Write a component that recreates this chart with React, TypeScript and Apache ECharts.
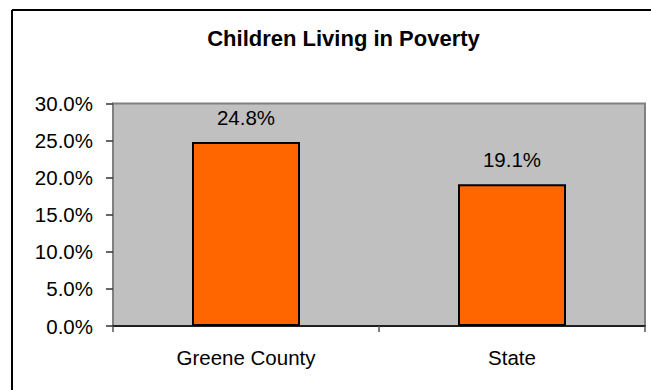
import React, { useEffect, useRef } from "react";
import * as echarts from "echarts";

const categories = ["Greene County", "State"];
const values = [24.8, 19.1];
const yMin = 0;
const yMax = 30;
const yInterval = 5;
const titleText = "Children Living in Poverty";

export default function App() {
  const ref = useRef<HTMLDivElement>(null);
  useEffect(() => {
    if (!ref.current) return;
    const chart = echarts.init(ref.current, undefined, { renderer: "svg" });
    const font = "'Liberation Sans', Arial, sans-serif";
    chart.setOption({
      animation: false,
      backgroundColor: "#ffffff",
      textStyle: { fontFamily: font },
      title: {
        text: titleText,
        left: 338.5,
        top: 22,
        textAlign: "center",
        textStyle: { fontFamily: font, fontSize: 22, fontWeight: "bold", color: "#000" },
      },
      graphic: [
        { type: "line", shape: { x1: 12, y1: 10, x2: 651, y2: 10 }, style: { stroke: "#000", lineWidth: 2 } },
        { type: "line", shape: { x1: 12, y1: 10, x2: 12, y2: 390 }, style: { stroke: "#000", lineWidth: 2 } },
      ],
      grid: {
        left: 113,
        top: 103.5,
        right: 6,
        bottom: 64,
        show: true,
        backgroundColor: "#C0C0C0",
        borderColor: "#808080",
        borderWidth: 2,
      },
      xAxis: {
        type: "category",
        data: categories,
        axisLine: { show: true, lineStyle: { color: "#000", width: 1.5 } },
        axisTick: { show: true, length: 6, lineStyle: { color: "#555", width: 1.5 } },
        axisLabel: { color: "#000", fontSize: 20.5, fontFamily: font, margin: 21 },
      },
      yAxis: {
        type: "value",
        min: yMin,
        max: yMax,
        interval: yInterval,
        axisLine: { show: true, lineStyle: { color: "#808080", width: 2 } },
        axisTick: { show: true, length: 7, lineStyle: { color: "#333", width: 1.5 } },
        splitLine: { show: false },
        axisLabel: {
          color: "#000",
          fontSize: 20.5,
          fontFamily: font,
          margin: 20,
          formatter: (v: number) => v.toFixed(1) + "%",
        },
      },
      series: [
        {
          type: "bar",
          data: values,
          barWidth: "40.6%",
          itemStyle: { color: "#FF6600", borderColor: "#000", borderWidth: 2 },
          label: {
            show: true,
            position: "top",
            distance: 14,
            color: "#000",
            fontSize: 20.5,
            fontFamily: font,
            formatter: (p: any) => p.value.toFixed(1) + "%",
          },
        },
      ],
    });
    return () => chart.dispose();
  }, []);
  return (
    <div
      ref={ref}
      style={{ position: "fixed", left: 0, top: 0, width: 651, height: 390 }}
    />
  );
}
